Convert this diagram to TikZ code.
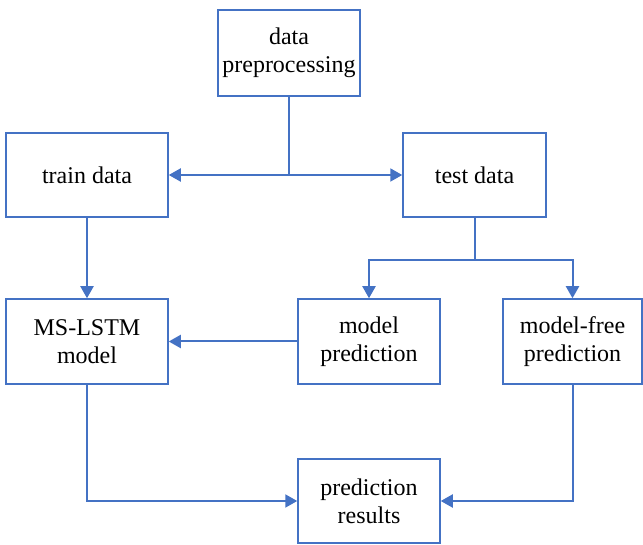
\documentclass[tikz,border=0pt]{standalone}
\usepackage{fontspec}
\setmainfont{Liberation Serif}
\usetikzlibrary{arrows.meta}

\definecolor{lineblue}{HTML}{4472C4}
\tikzset{
  box/.style={draw=lineblue, line width=0.75pt, align=center, inner sep=0pt,
    font=\fontsize{12}{14}\selectfont},
  flow/.style={draw=lineblue, line width=1pt, -{Triangle[width=6.5pt,length=6pt]}},
  plain/.style={draw=lineblue, line width=1pt}
}

\begin{document}
\begin{tikzpicture}[x=0.5pt,y=-0.5pt]
\useasboundingbox (0,0) rectangle (643,545);

\node[box, minimum width=71pt, minimum height=43pt] (prep) at (289,53) {data\\preprocessing};
\node[box, minimum width=81pt, minimum height=42pt] (train) at (87,175) {train data};
\node[box, minimum width=71.5pt, minimum height=42pt] (test) at (474.5,175) {test data};

\node[box, minimum width=81pt, minimum height=42.5pt] (mslstm) at (87,341.5) {MS-LSTM\\model};
\node[box, minimum width=71pt, minimum height=42.5pt] (modpred) at (369,341.5) {model\\prediction};
\node[box, minimum width=69.5pt, minimum height=42.5pt] (mfree) at (572.5,341.5) {model-free\\prediction};

\node[box, minimum width=71pt, minimum height=42pt] (results) at (369,501) {prediction\\results};

\coordinate (split) at (289,175);
\coordinate (fork) at (474.5,260);

% split of the data
\draw[flow] (prep.south) -- (split) -- (train.east);
\draw[flow] (split) -- (test.west);

\draw[plain] (test.south) -- (fork);
\draw[flow] (fork) -| (modpred.north);
\draw[flow] (fork) -| (mfree.north);

% model
\draw[flow] (train.south) -- (mslstm.north);
\draw[flow] (modpred.west) -- (mslstm.east);

% results
\draw[flow] (mslstm.south) |- (results.west);
\draw[flow] (mfree.south) |- (results.east);
\end{tikzpicture}
\end{document}
